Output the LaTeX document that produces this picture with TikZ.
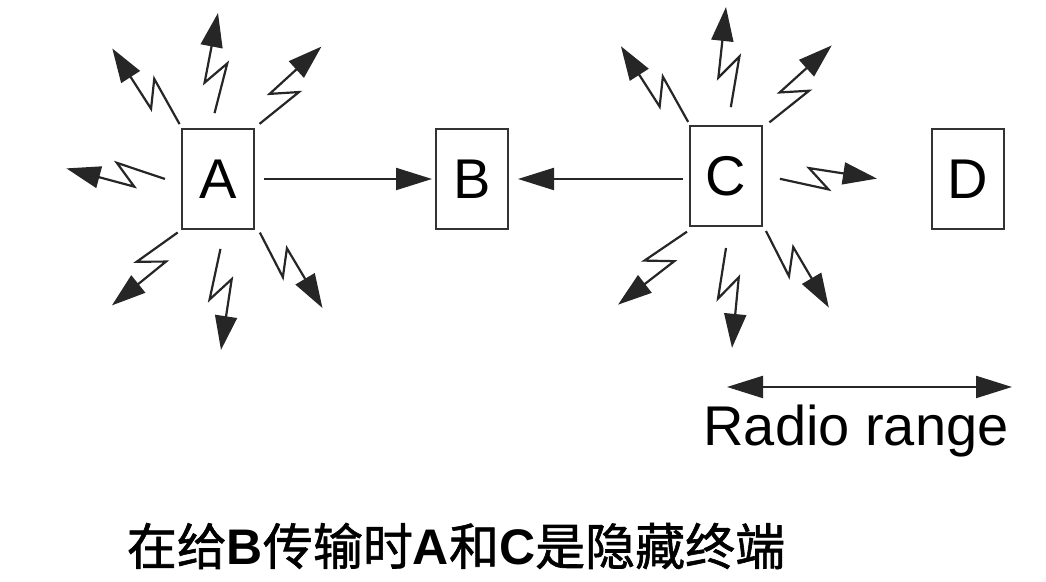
\documentclass[tikz,border=0pt]{standalone}
\usepackage{fontspec}
\setmainfont{Liberation Sans}
\newfontfamily\cjk[FakeBold=1.2]{Noto Sans CJK SC}
\usetikzlibrary{arrows.meta,calc}
\tikzset{
  station/.style={draw=black!80, line width=1pt, minimum width=36pt, minimum height=50pt,
    inner sep=0pt, font=\fontsize{28}{32}\selectfont},
  link/.style={draw=black!85, line width=1.1pt, -{Triangle[length=18pt,width=11pt]}},
  zap/.style={draw=black!85, line width=1.1pt, -{Triangle[length=17pt,width=11pt]},
    to path={-- ($(\tikztostart)!0.5!(\tikztotarget)!0.22!-90:(\tikztotarget)$)
      -- ($(\tikztostart)!0.3!(\tikztotarget)!0.157!90:(\tikztotarget)$)
      -- (\tikztotarget)}}
}
\begin{document}
\begin{tikzpicture}[x=0.5pt,y=0.5pt]
	\useasboundingbox (0,0) rectangle (1046,582);
	%stations
	\node[station] (A) at (218,403) {A};
	\node[station] (B) at (472,403) {B};
	\node[station] (C) at (726,406) {C};
	\node[station] (D) at (968,403) {D};
	%A and C both send to B
	\draw[link, shorten <=4.5pt, shorten >=1.5pt] (A.east) -- (B.west);
	\draw[link, shorten <=3pt, shorten >=4.5pt] (C.west |- B.east) -- (B.east);
	%radio waves of A
	\foreach \sa/\ea/\r/\R [count=\i] in {125/129/67/168, 93/90/66/166, 53/52/69/168,
	    180/176/53/152, 233/230/67/165, 272/271/70/171, 308/309/68/166} {
		\coordinate (A-s\i) at ($(A)+(\sa:\r)$);
		\coordinate (A-e\i) at ($(A)+(\ea:\R)$);
		\draw[zap] (A-s\i) to (A-e\i);
	}
	%radio waves of C
	\foreach \sa/\ea/\r/\R [count=\i] in {125/129/66/167, 86/90/69/169, 51/51/69/168,
	    357/359/54/151, 235/230/68/168, 270/272/72/172, 306/308/68/167} {
		\coordinate (C-s\i) at ($(C)+(\sa:\r)$);
		\coordinate (C-e\i) at ($(C)+(\ea:\R)$);
		\draw[zap] (C-s\i) to (C-e\i);
	}
	%radio range
	\coordinate (range-l) at (727,195);
	\coordinate (range-r) at (1012,195);
	\draw[link, {Triangle[length=18pt,width=11pt]}-{Triangle[length=18pt,width=11pt]}] (range-l) -- (range-r);
	\node[anchor=base, font=\fontsize{28}{32}\selectfont, inner sep=0pt] (range) at (856,136) {Radio range};
	%caption
	\node[anchor=base, font=\fontsize{25}{30}\selectfont, inner sep=0pt] (caption) at (456,17)
	  {{\cjk 在给}{\bfseries B}{\cjk 传输时}{\bfseries A}{\cjk 和}{\bfseries C}{\cjk 是隐藏终端}};
\end{tikzpicture}
\end{document}
